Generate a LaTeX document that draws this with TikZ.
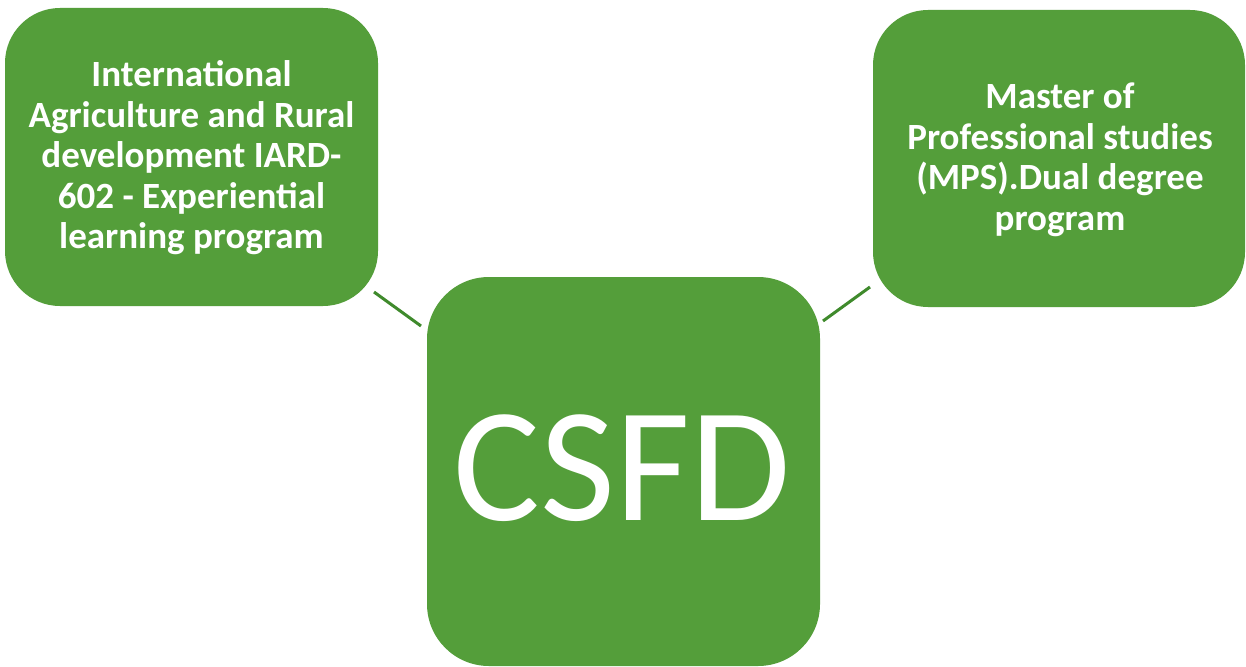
\documentclass[tikz,border=0pt]{standalone}
\usepackage{fontspec}
\setmainfont{Carlito}
\definecolor{boxgreen}{HTML}{549E3A}
\definecolor{linegreen}{HTML}{3F8A2C}
\begin{document}
\begin{tikzpicture}[x=1pt,y=-1pt,
  gbox/.style={fill=boxgreen, draw=none, rounded corners=#1},
  lbl/.style={text=white, font=\bfseries\fontsize{37}{40.5}\selectfont, align=center},
  conn/.style={draw=linegreen, line width=3pt}]
\useasboundingbox (0,0) rectangle (1246,666);
\fill[white] (0,0) rectangle (1246,666);
\path[gbox=55] (5,8) rectangle (378,306);
\path[gbox=55] (873,10) rectangle (1245,307);
\path[gbox=62] (427,277) rectangle (820,666);
\node[lbl] (left) at (191.5,158) {International\\Agriculture and Rural\\development IARD-\\602 - Experiential\\learning program};
\node[lbl] (right) at (1060,160) {Master of\\Professional studies\\(MPS).Dual degree\\program};
\node[text=white, font=\fontsize{163}{170}\selectfont] (center) at (622,468) {CSFD};
\coordinate (l1) at (374,292);
\coordinate (l2) at (421,326);
\coordinate (r1) at (823,321);
\coordinate (r2) at (870,287);
\draw[conn] (l1) -- (l2);
\draw[conn] (r1) -- (r2);
\end{tikzpicture}
\end{document}
